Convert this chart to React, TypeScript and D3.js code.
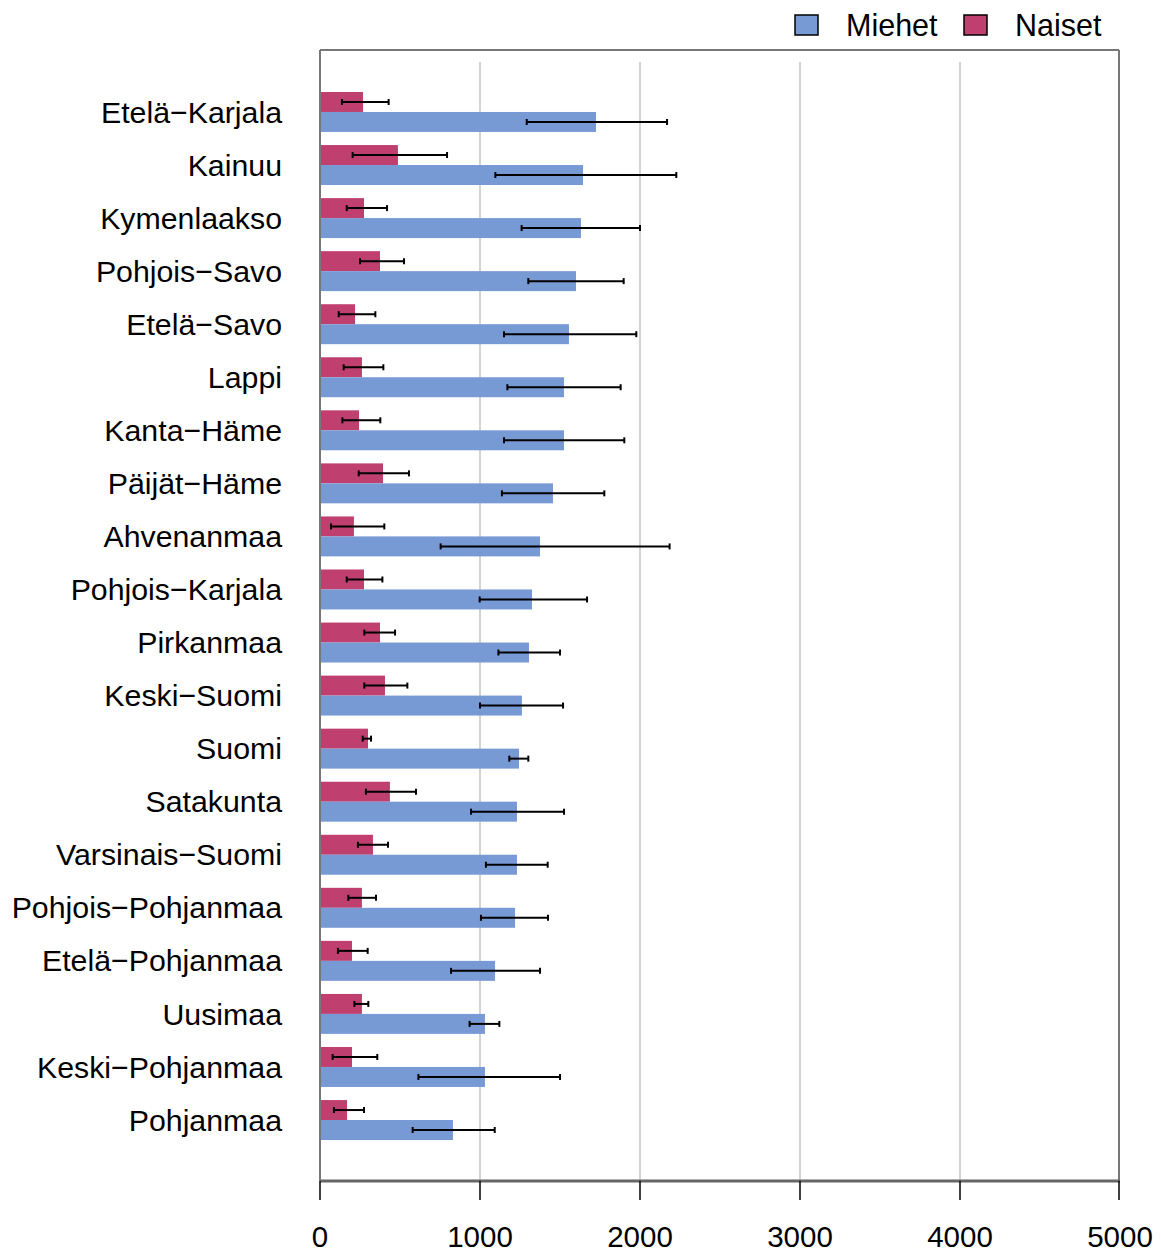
import React from "react";
import * as d3 from "d3";

const categories = [
  "Etelä−Karjala", "Kainuu", "Kymenlaakso", "Pohjois−Savo", "Etelä−Savo", "Lappi",
  "Kanta−Häme", "Päijät−Häme", "Ahvenanmaa", "Pohjois−Karjala", "Pirkanmaa",
  "Keski−Suomi", "Suomi", "Satakunta", "Varsinais−Suomi", "Pohjois−Pohjanmaa",
  "Etelä−Pohjanmaa", "Uusimaa", "Keski−Pohjanmaa", "Pohjanmaa",
];
const miehet = [1725, 1644, 1631, 1600, 1556, 1525, 1525, 1456, 1375, 1325, 1306, 1262, 1244, 1231, 1231, 1219, 1094, 1031, 1031, 831];
const miehetLow = [1292, 1096, 1260, 1302, 1150, 1171, 1150, 1137, 754, 998, 1115, 1000, 1183, 944, 1037, 1006, 819, 935, 615, 579];
const miehetHigh = [2169, 2227, 2000, 1898, 1977, 1879, 1902, 1777, 2185, 1669, 1500, 1519, 1302, 1525, 1423, 1425, 1375, 1121, 1500, 1092];
const naiset = [269, 487, 275, 375, 219, 262, 244, 394, 212, 275, 375, 406, 300, 437, 331, 262, 200, 262, 200, 169];
const naisetLow = [137, 204, 167, 250, 117, 148, 140, 242, 69, 167, 277, 277, 267, 287, 237, 177, 112, 215, 79, 87];
const naisetHigh = [429, 794, 419, 525, 346, 396, 377, 556, 402, 390, 469, 546, 319, 600, 425, 350, 298, 302, 358, 275];
const xTicks = [0, 1000, 2000, 3000, 4000, 5000];
const seriesNames = ["Naiset", "Miehet"];
const legendNames = ["Miehet", "Naiset"];

const COLORS: Record<string, string> = { Miehet: "#7799D4", Naiset: "#BF3F6F" };
const FONT = "'Liberation Sans', Arial, Helvetica, sans-serif";

export default function App() {
  const W = 1161, H = 1253;
  const left = 320, right = 1120, top = 50, bottom = 1181;
  const x = d3.scaleLinear().domain([0, 5000]).range([left, right]);
  const y = d3.scaleBand<string>().domain(categories).range([92, 1140]).paddingInner(0.247).paddingOuter(0);
  const sub = d3.scaleBand<string>().domain(seriesNames).range([0, y.bandwidth()]);

  const rows = categories.map((c, i) => ({
    c,
    Naiset: { v: naiset[i], lo: naisetLow[i], hi: naisetHigh[i] },
    Miehet: { v: miehet[i], lo: miehetLow[i], hi: miehetHigh[i] },
  }));

  return (
    <svg width={W} height={H} style={{ display: "block", position: "absolute", left: 0, top: 0, background: "#fff" }} fontFamily={FONT}>
      {/* grid lines */}
      {xTicks.slice(1, -1).map((t) => (
        <line key={"g" + t} x1={x(t)} x2={x(t)} y1={62} y2={bottom} stroke="#D3D3D3" strokeWidth={2} />
      ))}
      {/* bars */}
      {rows.map((r) =>
        seriesNames.map((s) => {
          const d = (r as any)[s];
          const y0 = (y(r.c) as number) + (sub(s) as number);
          const h = sub.bandwidth();
          const cy = y0 + h / 2;
          return (
            <g key={r.c + s}>
              <rect x={x(0)} y={y0} width={x(d.v) - x(0)} height={h} fill={COLORS[s]} />
              <line x1={x(d.lo)} x2={x(d.hi)} y1={cy} y2={cy} stroke="#000" strokeWidth={2} />
              <line x1={x(d.lo)} x2={x(d.lo)} y1={cy - 3} y2={cy + 3} stroke="#000" strokeWidth={2} />
              <line x1={x(d.hi)} x2={x(d.hi)} y1={cy - 3} y2={cy + 3} stroke="#000" strokeWidth={2} />
            </g>
          );
        })
      )}
      {/* box */}
      <line x1={left} x2={left} y1={top} y2={bottom} stroke="#777" strokeWidth={2} />
      <line x1={left} x2={1119} y1={top} y2={top} stroke="#777" strokeWidth={2} />
      <line x1={1119} x2={1119} y1={top} y2={bottom} stroke="#777" strokeWidth={2} />
      <line x1={left} x2={1120} y1={bottom} y2={bottom} stroke="#666" strokeWidth={3} />
      {/* x axis ticks */}
      {xTicks.map((t) => (
        <g key={"t" + t}>
          <line x1={Math.min(x(t), 1119)} x2={Math.min(x(t), 1119)} y1={bottom} y2={1200} stroke="#000" strokeWidth={1.5} />
          <text x={x(t)} y={1247} textAnchor="middle" fontSize={29.5} fill="#000">{t}</text>
        </g>
      ))}
      {/* category labels */}
      {categories.map((c) => (
        <text key={"l" + c} x={282} y={(y(c) as number) + y.bandwidth() / 2} dy="0.35em" textAnchor="end" fontSize={30.3} fill="#000">{c}</text>
      ))}
      {/* legend */}
      {legendNames.map((s, i) => {
        const lx = i === 0 ? 795 : 964;
        return (
          <g key={"lg" + s}>
            <rect x={lx} y={15} width={23} height={20} fill={COLORS[s]} stroke="#000" strokeWidth={1.5} />
            <text x={lx + 51} y={25} dy="0.35em" fontSize={30.5} fill="#000">{s}</text>
          </g>
        );
      })}
    </svg>
  );
}
